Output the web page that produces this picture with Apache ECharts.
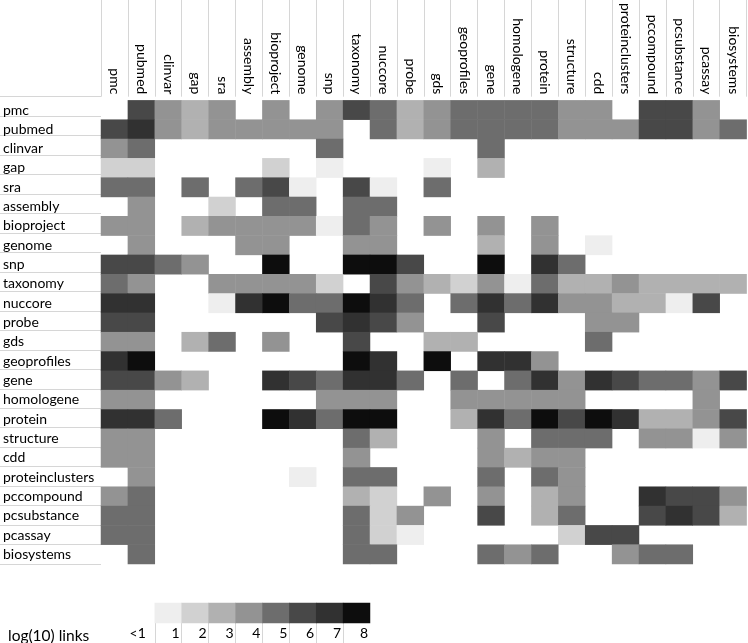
<!DOCTYPE html>
<html>
<head>
<meta charset="utf-8">
<script src="https://cdn.jsdelivr.net/npm/echarts@6/dist/echarts.min.js"></script>
<style>
html,body{margin:0;padding:0;background:#fff;}
#chart{width:748px;height:643px;}
</style>
</head>
<body>
<div id="chart"></div>
<script>
// Databases (rows and columns share the same order)
const categories = ['pmc','pubmed','clinvar','gap','sra','assembly','bioproject','genome','snp','taxonomy','nuccore','probe','gds','geoprofiles','gene','homologene','protein','structure','cdd','proteinclusters','pccompound','pcsubstance','pcassay','biosystems'];

// log(10) links, 0 = <1 (blank cell); one array per row database
const row_pmc            = [0,6,4,3,4,0,4,0,4,6,5,3,4,5,5,5,5,4,4,0,6,6,4,0];
const row_pubmed         = [6,7,4,3,4,4,4,4,4,0,5,3,4,5,5,5,5,4,4,4,6,6,4,5];
const row_clinvar        = [4,5,0,0,0,0,0,0,5,0,0,0,0,0,5,0,0,0,0,0,0,0,0,0];
const row_gap            = [2,2,0,0,0,0,2,0,1,0,0,0,1,0,3,0,0,0,0,0,0,0,0,0];
const row_sra            = [5,5,0,5,0,5,6,1,0,6,1,0,5,0,0,0,0,0,0,0,0,0,0,0];
const row_assembly       = [0,4,0,0,2,0,5,5,0,5,5,0,0,0,0,0,0,0,0,0,0,0,0,0];
const row_bioproject     = [4,4,0,3,4,4,4,4,1,5,4,0,4,0,4,0,4,0,0,0,0,0,0,0];
const row_genome         = [0,4,0,0,0,4,4,0,0,4,4,0,0,0,3,0,4,0,1,0,0,0,0,0];
const row_snp            = [6,6,5,4,0,0,8,0,0,8,8,6,0,0,8,0,7,5,0,0,0,0,0,0];
const row_taxonomy       = [5,4,0,0,4,4,4,4,2,0,6,4,3,2,4,1,5,3,3,4,3,3,3,3];
const row_nuccore        = [7,7,0,0,1,7,8,5,5,8,7,5,0,5,7,5,7,4,4,3,3,1,6,0];
const row_probe          = [6,6,0,0,0,0,0,0,6,7,6,4,0,0,6,0,0,0,4,4,0,0,0,0];
const row_gds            = [4,4,0,3,5,0,4,0,0,6,0,0,3,3,0,0,0,0,5,0,0,0,0,0];
const row_geoprofiles    = [7,8,0,0,0,0,0,0,0,8,7,0,8,0,7,7,4,0,0,0,0,0,0,0];
const row_gene           = [6,6,4,3,0,0,7,6,5,7,7,5,0,5,0,5,7,4,7,6,5,5,4,6];
const row_homologene     = [4,4,0,0,0,0,0,0,4,4,4,0,0,4,4,4,4,4,0,0,0,0,4,0];
const row_protein        = [7,7,5,0,0,0,8,7,5,8,8,0,0,3,7,5,8,6,8,7,3,3,4,6];
const row_structure      = [4,4,0,0,0,0,0,0,0,5,3,0,0,0,4,0,5,5,5,0,4,4,1,4];
const row_cdd            = [4,4,0,0,0,0,0,0,0,4,0,0,0,0,4,3,4,4,0,0,0,0,0,0];
const row_proteinclusters= [0,4,0,0,0,0,0,1,0,5,5,0,0,0,5,0,5,4,0,0,0,0,0,0];
const row_pccompound     = [4,5,0,0,0,0,0,0,0,3,2,0,4,0,4,0,3,4,0,0,7,6,6,4];
const row_pcsubstance    = [5,5,0,0,0,0,0,0,0,5,2,4,0,0,6,0,3,5,0,0,6,7,6,3];
const row_pcassay        = [5,5,0,0,0,0,0,0,0,5,2,1,0,0,0,0,0,2,6,6,0,0,0,0];
const row_biosystems     = [0,5,0,0,0,0,0,0,0,5,5,0,0,0,5,4,5,0,0,4,5,5,0,0];

// Legend
const legendLevels = [1,2,3,4,5,6,7,8];
const legendLabels = ['<1','1','2','3','4','5','6','7','8'];
const legendTitle = 'log(10) links';

const rows = [row_pmc,row_pubmed,row_clinvar,row_gap,row_sra,row_assembly,row_bioproject,row_genome,row_snp,row_taxonomy,row_nuccore,row_probe,row_gds,row_geoprofiles,row_gene,row_homologene,row_protein,row_structure,row_cdd,row_proteinclusters,row_pccompound,row_pcsubstance,row_pcassay,row_biosystems];

const shades = ['#eeeeee','#d1d1d1','#b1b1b1','#939393','#6d6d6d','#484848','#313131','#0d0d0d'];

const heatData = [];
rows.forEach((r, ri) => r.forEach((v, ci) => { if (v > 0) heatData.push([ci, ri, v]); }));
const legendData = legendLevels.map((v, i) => [i, 0, v]);

const FONT = 'Lato';
const GX = 101, GY = 96.7, GW = 645.6, GH = 467.3;
const CW = GW / 24;

const chart = echarts.init(document.getElementById('chart'), null, {renderer: 'canvas'});
const lineCol = '#d6d6d6';
const sepColors = ['rgba(0,0,0,0)'].concat(legendLevels.map(() => lineCol)).concat(['rgba(0,0,0,0)']);

chart.setOption({
  animation: false,
  backgroundColor: '#fff',
  title: {
    text: legendTitle, left: 3, top: 623,
    textStyle: {fontFamily: FONT, fontSize: 15.5, fontWeight: 'normal', color: '#000'}
  },
  grid: [
    {left: GX, top: GY, width: GW, height: GH},                         // main heatmap
    {left: GX + 2 * CW, top: 603, width: 8 * CW, height: 20},           // legend swatches
    {left: GX + CW, top: 623, width: 9 * CW, height: 20},               // legend labels
    {left: GX, top: 0, width: GW, height: GY},                          // header separators
    {left: 0, top: GY, width: GX, height: GH}                           // row label separators
  ],
  visualMap: {
    type: 'piecewise', show: false, dimension: 2, seriesIndex: [0, 1],
    pieces: legendLevels.map((v, i) => ({value: v, color: shades[i]}))
  },
  xAxis: [
    {gridIndex: 0, type: 'category', data: categories, position: 'top',
     axisLine: {show: false}, axisTick: {show: false}, splitLine: {show: false},
     axisLabel: {interval: 0, rotate: 90, margin: 6, fontFamily: FONT, fontSize: 14, color: '#000'}},
    {gridIndex: 1, type: 'category', data: legendLevels, show: false},
    {gridIndex: 2, type: 'value', min: 0, max: 9, interval: 1, position: 'bottom',
     axisLine: {show: false}, axisTick: {show: false},
     splitLine: {show: true, lineStyle: {color: sepColors, width: 1}},
     axisLabel: {inside: true, margin: 10, verticalAlign: 'middle', align: 'right',
       showMinLabel: true, showMaxLabel: true,
       fontFamily: FONT, fontSize: 14, color: '#000',
       formatter: function (v) {
         if (v < 1) return '';
         const t = legendLabels[v - 1];
         return v === 1 ? '{a|' + t + '}' : '{b|' + t + '}';
       },
       rich: {
         a: {fontFamily: FONT, fontSize: 14, color: '#000', padding: [0, 9, 0, 0]},
         b: {fontFamily: FONT, fontSize: 14, color: '#000', padding: [0, 2, 0, 0]}
       }}},
    {gridIndex: 3, type: 'category', data: categories,
     axisLine: {show: false}, axisTick: {show: false}, axisLabel: {show: false},
     splitLine: {show: true, interval: 0, lineStyle: {color: lineCol}}},
    {gridIndex: 4, type: 'value', show: false}
  ],
  yAxis: [
    {gridIndex: 0, type: 'category', data: categories, inverse: true,
     axisLine: {show: false}, axisTick: {show: false}, splitLine: {show: false},
     axisLabel: {interval: 0, align: 'left', margin: GX - 3, fontFamily: FONT, fontSize: 14, color: '#000'}},
    {gridIndex: 1, type: 'category', data: [''], show: false},
    {gridIndex: 2, type: 'value', show: false},
    {gridIndex: 3, type: 'value', show: false},
    {gridIndex: 4, type: 'category', data: categories, inverse: true,
     axisLine: {show: false}, axisTick: {show: false}, axisLabel: {show: false},
     splitLine: {show: true, interval: 0, lineStyle: {color: lineCol}}}
  ],
  series: [
    {type: 'heatmap', xAxisIndex: 0, yAxisIndex: 0, data: heatData,
     itemStyle: {borderWidth: 0}, emphasis: {disabled: true}, progressive: 0},
    {type: 'heatmap', xAxisIndex: 1, yAxisIndex: 1, data: legendData,
     itemStyle: {borderWidth: 0}, emphasis: {disabled: true}}
  ]
});
</script>
</body>
</html>
